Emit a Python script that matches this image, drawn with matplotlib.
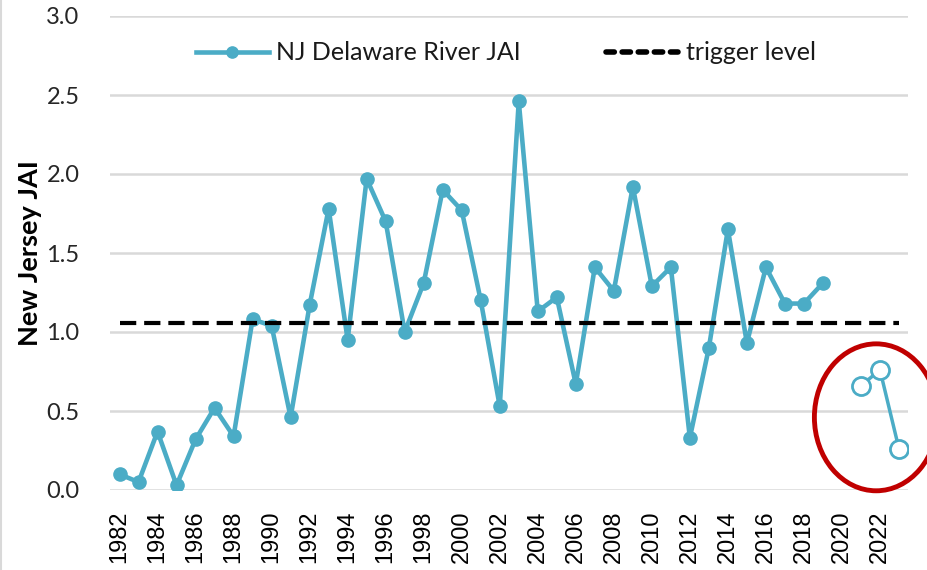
import matplotlib
matplotlib.use("Agg")
import matplotlib.pyplot as plt
from matplotlib.patches import Ellipse
from matplotlib.lines import Line2D

years = list(range(1982, 2020))
jai = [0.10, 0.05, 0.37, 0.03, 0.32, 0.52, 0.34, 1.08, 1.04, 0.46,
       1.17, 1.78, 0.95, 1.97, 1.70, 1.00, 1.31, 1.90, 1.77, 1.20,
       0.53, 2.46, 1.13, 1.22, 0.67, 1.41, 1.26, 1.92, 1.29, 1.41,
       0.33, 0.90, 1.65, 0.93, 1.41, 1.18, 1.18, 1.31]
recent_years = [2021, 2022, 2023]
recent_jai = [0.66, 0.76, 0.26]
trigger_years = [1982, 2023]
trigger_value = 1.06
tick_years = list(range(1982, 2023, 2))
y_ticks = [0.0, 0.5, 1.0, 1.5, 2.0, 2.5, 3.0]

BLUE = "#4BACC6"

fig = plt.figure(figsize=(9.28, 5.70), dpi=100)
ax = fig.add_axes([110 / 928, 1 - 490 / 570, 798.5 / 928, 474 / 570])

ax.set_ylim(0, 3.0)
ax.set_xlim(1981.5, 2023.5)
ax.set_yticks(y_ticks)
ax.set_yticklabels([f"{v:.1f}" for v in y_ticks], fontfamily="Lato", fontsize=17, color="#262626")
ax.set_xticks(tick_years)
ax.set_xticklabels([str(y) for y in tick_years], rotation=90, fontfamily="Liberation Sans",
                   fontsize=17, color="black")
ax.tick_params(axis="both", length=0)
ax.tick_params(axis="y", pad=22)
ax.tick_params(axis="x", pad=15)
for s in ax.spines.values():
    s.set_visible(False)
ax.grid(axis="y", color="#D9D9D9", linewidth=1.8)
ax.set_axisbelow(True)

ax.set_ylabel("New Jersey JAI", fontfamily="Lato", fontweight="bold", fontsize=19.5, labelpad=3)

main_line, = ax.plot(years, jai, color=BLUE, linewidth=3.3, marker="o", markersize=9.5,
                     label="NJ Delaware River JAI", zorder=3)
ax.plot(trigger_years, [trigger_value] * len(trigger_years), color="black", linewidth=3,
        linestyle=(0, (3.9, 1.9)), label="trigger level", zorder=4)
ax.plot(recent_years, recent_jai, color=BLUE, linewidth=2.5, marker="o", markersize=13,
        markerfacecolor="white", markeredgecolor=BLUE, markeredgewidth=2, zorder=5)

ell = Ellipse((2021.8, 0.46), width=6.5, height=0.93, fill=False, edgecolor="#C00000",
              linewidth=3.5, clip_on=False, zorder=6)
ax.add_patch(ell)

trigger_proxy = Line2D([], [], color="black", linewidth=4, linestyle=(0, (1.5, 1.4)),
                       dash_capstyle="round")
leg = ax.legend(handles=[main_line, trigger_proxy],
                labels=["NJ Delaware River JAI", "trigger level"],
                loc="center", bbox_to_anchor=(0.496, 0.922), ncol=2, frameon=False,
                prop={"family": "Lato", "size": 18}, handlelength=2.9, handletextpad=0.3,
                columnspacing=3.4, numpoints=1, markerscale=0.85)
for t in leg.get_texts():
    t.set_color("#1a1a1a")

fig.add_artist(Line2D([1.5 / 928, 1.5 / 928], [0, 1], transform=fig.transFigure,
                      color="#D9D9D9", linewidth=1.5))

fig.savefig("out.png", dpi=100)
